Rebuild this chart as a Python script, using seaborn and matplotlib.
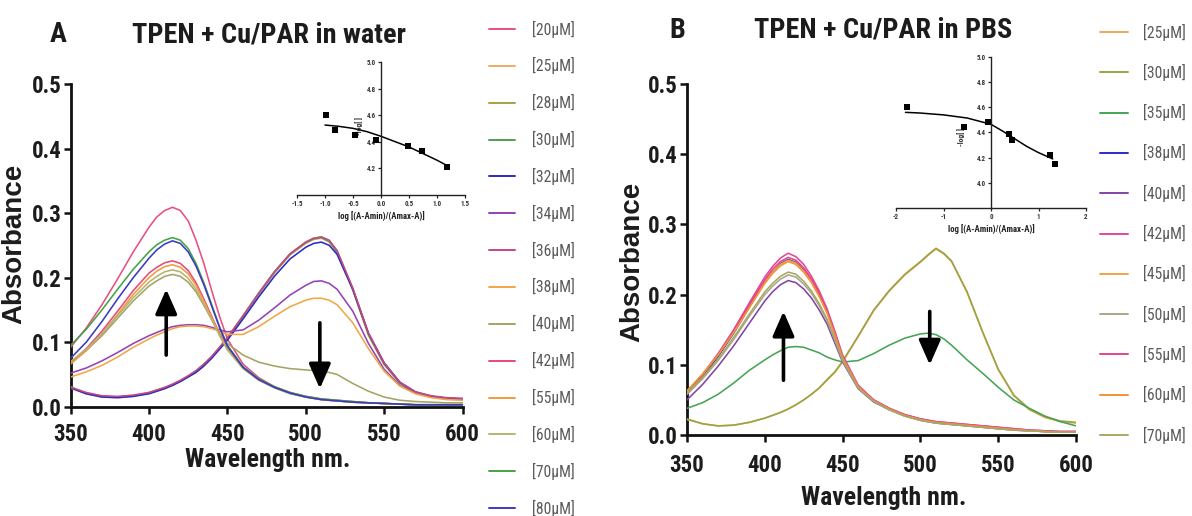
import matplotlib
matplotlib.use("Agg")
import matplotlib.pyplot as plt
import seaborn as sns
from matplotlib import font_manager as fm
from matplotlib.lines import Line2D

# ---------------- data ----------------
WL = [350, 360, 370, 380, 390, 400, 405, 410, 415, 420, 425, 430, 435, 440, 445, 450,
      460, 470, 480, 490, 500, 505, 510, 515, 520, 530, 540, 550, 560, 570, 580, 590, 600]

# Panel A (water)
labels_a = ["[20µM]", "[25µM]", "[28µM]", "[30µM]", "[32µM]", "[34µM]", "[36µM]",
            "[38µM]", "[40µM]", "[42µM]", "[55µM]", "[60µM]", "[70µM]", "[80µM]"]
colors_a = ["#e8507e", "#f2aa66", "#a8a044", "#4f9f55", "#2a2ac4", "#9343b3", "#c2488a",
            "#f2a645", "#a4a462", "#e64a7a", "#f29a3c", "#b4b474", "#44a344", "#3a3ac4"]
a20 = [.092, .122, .158, .198, .240, .278, .294, .304, .309, .304, .288, .258, .222, .180, .140, .105,
       .066, .045, .031, .022, .016, .014, .012, .011, .010, .008, .006, .005, .004, .003, .003, .003, .003]
a25 = [.029, .020, .015, .014, .016, .021, .024, .028, .033, .039, .046, .054, .064, .076, .090, .105,
       .139, .174, .207, .235, .253, .259, .261, .255, .238, .180, .110, .065, .036, .021, .015, .012, .011]
a28 = [.031, .021, .016, .015, .017, .022, .026, .029, .034, .040, .047, .055, .066, .077, .092, .106,
       .141, .176, .209, .237, .255, .261, .263, .257, .241, .183, .113, .067, .037, .022, .016, .013, .012]
a30 = [.030, .021, .016, .015, .017, .021, .025, .029, .034, .040, .047, .055, .065, .077, .091, .106,
       .140, .175, .208, .236, .254, .260, .262, .256, .240, .182, .112, .066, .037, .022, .016, .013, .012]
a32 = [.029, .020, .015, .014, .016, .020, .024, .028, .033, .039, .046, .053, .063, .075, .089, .103,
       .136, .170, .202, .229, .247, .253, .255, .250, .236, .182, .114, .068, .038, .023, .016, .013, .012]
a34 = [.052, .060, .071, .084, .098, .110, .115, .120, .124, .126, .127, .127, .126, .123, .119, .116,
       .119, .134, .153, .173, .188, .194, .195, .191, .182, .148, .098, .058, .033, .021, .015, .012, .011]
a36 = [.030, .022, .017, .016, .018, .022, .026, .030, .035, .041, .048, .056, .066, .078, .092, .107,
       .141, .176, .209, .237, .255, .261, .263, .258, .242, .184, .114, .068, .038, .023, .017, .014, .013]
a38 = [.046, .054, .064, .077, .092, .105, .111, .116, .121, .124, .125, .125, .124, .121, .117, .112,
       .112, .124, .140, .155, .165, .168, .168, .165, .158, .130, .090, .055, .032, .020, .014, .011, .010]
a40 = [.068, .087, .110, .137, .164, .187, .195, .202, .205, .202, .193, .178, .157, .135, .114, .098,
       .080, .069, .063, .059, .057, .056, .055, .053, .050, .036, .024, .015, .010, .008, .007, .006, .006]
a42 = [.068, .090, .117, .148, .180, .207, .216, .223, .226, .222, .211, .192, .167, .140, .113, .090,
       .060, .042, .030, .021, .015, .013, .011, .010, .009, .007, .006, .005, .004, .003, .003, .003, .003]
a55 = [.066, .087, .113, .143, .174, .200, .210, .217, .220, .216, .206, .188, .164, .138, .112, .089,
       .060, .042, .030, .021, .015, .013, .011, .010, .009, .007, .006, .005, .004, .003, .003, .003, .003]
a60 = [.070, .089, .113, .141, .169, .193, .202, .209, .212, .209, .199, .182, .159, .135, .110, .088,
       .059, .041, .029, .020, .015, .013, .011, .010, .009, .007, .006, .005, .004, .003, .003, .003, .003]
a70 = [.095, .120, .150, .182, .213, .240, .251, .258, .262, .258, .245, .222, .192, .158, .124, .095,
       .062, .043, .031, .022, .016, .014, .012, .011, .010, .008, .006, .005, .004, .003, .003, .003, .003]
a80 = [.075, .100, .132, .167, .200, .230, .243, .252, .257, .253, .240, .218, .189, .156, .123, .094,
       .061, .042, .030, .021, .015, .013, .011, .010, .009, .007, .006, .005, .004, .003, .003, .003, .003]
series_a = [a20, a25, a28, a30, a32, a34, a36, a38, a40, a42, a55, a60, a70, a80]

# Panel B (PBS)
labels_b = ["[25µM]", "[30µM]", "[35µM]", "[38µM]", "[40µM]", "[42µM]",
            "[45µM]", "[50µM]", "[55µM]", "[60µM]", "[70µM]"]
colors_b = ["#f2a655", "#98a444", "#47a456", "#2c2cc4", "#8444a6", "#e4469a",
            "#f2a445", "#a8a888", "#e44486", "#f29434", "#a8a866"]
b25 = [.022, .016, .013, .014, .018, .024, .028, .032, .037, .043, .050, .058, .067, .078, .089, .104,
       .140, .177, .205, .228, .246, .256, .265, .258, .247, .203, .146, .093, .056, .036, .025, .019, .017]
b30 = [.023, .016, .013, .014, .018, .024, .028, .032, .037, .043, .050, .058, .067, .079, .090, .105,
       .141, .178, .206, .229, .247, .257, .266, .259, .248, .204, .147, .094, .057, .037, .026, .020, .018]
b35 = [.038, .046, .058, .074, .092, .107, .114, .120, .125, .126, .125, .121, .117, .111, .107, .104,
       .106, .116, .128, .138, .144, .145, .143, .137, .128, .107, .088, .068, .050, .038, .027, .019, .013]
b38 = [.058, .083, .112, .145, .182, .218, .232, .244, .250, .246, .235, .219, .199, .175, .144, .110,
       .069, .049, .037, .028, .022, .020, .018, .017, .016, .014, .012, .010, .008, .006, .005, .004, .004]
b40 = [.050, .072, .098, .127, .159, .191, .204, .214, .220, .217, .208, .195, .178, .158, .131, .104,
       .066, .047, .036, .027, .021, .019, .017, .016, .015, .013, .011, .009, .007, .006, .005, .004, .004]
b42 = [.060, .086, .116, .150, .188, .225, .240, .252, .259, .254, .243, .226, .205, .180, .148, .114,
       .071, .050, .038, .029, .023, .021, .019, .018, .017, .015, .013, .011, .009, .007, .006, .005, .005]
b45 = [.062, .086, .114, .147, .183, .218, .232, .243, .249, .245, .234, .219, .199, .175, .144, .110,
       .069, .049, .037, .028, .022, .020, .018, .017, .016, .014, .012, .010, .008, .006, .005, .004, .004]
b50 = [.058, .080, .106, .136, .169, .200, .212, .222, .228, .225, .215, .202, .184, .163, .135, .106,
       .067, .048, .036, .027, .021, .019, .017, .016, .015, .013, .011, .009, .007, .006, .005, .004, .004]
b55 = [.061, .086, .115, .148, .185, .221, .236, .247, .253, .249, .238, .222, .202, .177, .146, .111,
       .070, .050, .038, .029, .023, .021, .019, .018, .017, .015, .013, .011, .009, .007, .006, .005, .005]
b60 = [.063, .087, .114, .146, .181, .216, .230, .241, .247, .243, .232, .217, .197, .174, .143, .110,
       .069, .049, .037, .028, .022, .020, .018, .017, .016, .014, .012, .010, .008, .006, .005, .004, .004]
b70 = [.060, .082, .108, .139, .172, .204, .216, .226, .232, .229, .219, .205, .187, .165, .137, .107,
       .067, .048, .036, .027, .021, .019, .017, .016, .015, .013, .011, .009, .007, .006, .005, .004, .004]
series_b = [b25, b30, b35, b38, b40, b42, b45, b50, b55, b60, b70]

# Insets: -log[ ] vs log[(A-Amin)/(Amax-A)]
ins_a_x = [-0.98, -0.82, -0.46, -0.09, 0.48, 0.73, 1.18]
ins_a_y = [4.60, 4.49, 4.45, 4.41, 4.37, 4.33, 4.21]
fit_a_x = [-1.0, -0.75, -0.5, -0.25, 0.0, 0.25, 0.5, 0.75, 1.0, 1.2]
fit_a_y = [4.525, 4.515, 4.50, 4.475, 4.44, 4.40, 4.36, 4.31, 4.26, 4.215]
ins_b_x = [-1.77, -0.56, -0.06, 0.37, 0.45, 1.25, 1.34]
ins_b_y = [4.60, 4.44, 4.48, 4.39, 4.34, 4.22, 4.15]
fit_b_x = [-1.8, -1.5, -1.0, -0.5, 0.0, 0.25, 0.5, 0.75, 1.0, 1.3]
fit_b_y = [4.56, 4.555, 4.54, 4.515, 4.465, 4.41, 4.35, 4.29, 4.24, 4.19]

xticks_main = [350, 400, 450, 500, 550, 600]
yticks_main = [0.0, 0.1, 0.2, 0.3, 0.4, 0.5]

# ---------------- style ----------------
sns.set_theme(style="ticks")


def has_font(name):
    try:
        fm.findfont(fm.FontProperties(family=name), fallback_to_default=False)
        return True
    except Exception:
        return False


# condensed family that mimics the narrow lettering of the original
NARROW, SCALE = "Liberation Sans", 0.84
for cand, sc in [("Liberation Sans Narrow", 1.0), ("Roboto Condensed", 0.97),
                 ("DejaVu Sans Condensed", 0.86)]:
    if has_font(cand):
        NARROW, SCALE = cand, sc
        break
REG = "Liberation Sans" if has_font("Liberation Sans") else "DejaVu Sans"
plt.rcParams["font.family"] = [NARROW, "DejaVu Sans"]
TXT = "#1c1c1c"


def fs(v):
    return v * SCALE


W, H = 1192, 516
fig = plt.figure(figsize=(W / 100, H / 100), dpi=100)
fig.patch.set_facecolor("white")


def fx(px):
    return px / W


def fy(py):
    return 1 - py / H


def main_axes(left, right, top, bottom):
    return fig.add_axes([fx(left), fy(bottom), fx(right) - fx(left), fy(top) - fy(bottom)])


def style_main(ax):
    ax.set_xlim(350, 600)
    ax.set_ylim(0, 0.5)
    ax.set_xticks(xticks_main)
    ax.set_yticks(yticks_main)
    ax.set_yticklabels([f"{v:.1f}" for v in yticks_main])
    for s in ["top", "right"]:
        ax.spines[s].set_visible(False)
    for s in ["left", "bottom"]:
        ax.spines[s].set_linewidth(2.0)
        ax.spines[s].set_color("#111111")
        ax.spines[s].set_zorder(1)
    ax.tick_params(axis="both", direction="out", length=5, width=1.8, color="#111111",
                   labelsize=fs(17), labelcolor=TXT)
    ax.tick_params(axis="y", pad=1.5)
    ax.tick_params(axis="x", pad=7)
    for lab in ax.get_xticklabels() + ax.get_yticklabels():
        lab.set_fontweight("bold")
    ax.set_facecolor("none")
    ax.grid(False)


def draw_series(ax, series, colors):
    for vals, c in zip(series, colors):
        sns.lineplot(x=WL, y=vals, ax=ax, color=c, lw=1.15, legend=False, estimator=None)


def arrow(ax, x, y0, y1):
    ax.annotate("", xy=(x, y1), xytext=(x, y0),
                arrowprops=dict(arrowstyle="-|>,head_length=0.75,head_width=0.33", color="black",
                                lw=2.6, mutation_scale=20, shrinkA=0, shrinkB=0), zorder=5)


def style_inset(ax, xlim, ylim, xticks, yticks, xfmt, ylabel_pos):
    ax.set_xlim(*xlim)
    ax.set_ylim(*ylim)
    ax.set_facecolor("none")
    for s in ["top", "right"]:
        ax.spines[s].set_visible(False)
    ax.spines["left"].set_position(("data", 0))
    ax.spines["bottom"].set_position(("data", ylim[0]))
    for s in ["left", "bottom"]:
        ax.spines[s].set_linewidth(1.0)
        ax.spines[s].set_color("#222222")
    ax.set_xticks(xticks)
    ax.set_xticklabels([xfmt(v) for v in xticks])
    ax.set_yticks(yticks)
    ax.set_yticklabels([f"{v:.1f}" for v in yticks])
    ax.tick_params(axis="both", direction="out", length=2.5, width=0.9, color="#222222",
                   labelsize=5, labelcolor="#333333", pad=1)
    for lab in ax.get_xticklabels() + ax.get_yticklabels():
        lab.set_fontweight("bold")
    ax.set_xlabel("log [(A-Amin)/(Amax-A)]", fontsize=6.3, fontweight="bold", color="#222222", labelpad=3)
    ax.text(ylabel_pos[0], ylabel_pos[1], "-log[ ]", transform=ax.transAxes, rotation=90,
            fontsize=5.5, fontweight="bold", color="#333333", ha="center", va="center")
    ax.grid(False)


# ---------------- Panel A ----------------
axA = main_axes(70.6, 462.5, 84, 406.7)
draw_series(axA, series_a, colors_a)
style_main(axA)
axA.set_xlabel("Wavelength nm.", fontsize=fs(19), fontweight="bold", color=TXT)
axA.xaxis.set_label_coords(0.502, -0.165)
axA.xaxis.label.set_va("center")
axA.set_ylabel("Absorbance", fontsize=20, fontweight="bold", color=TXT, family=[REG, "DejaVu Sans"])
axA.yaxis.set_label_coords((14 - 70.6) / 391.9, 0.505)
axA.yaxis.label.set_va("center")
arrow(axA, 411, 0.080, 0.182)
arrow(axA, 509, 0.130, 0.028)

insA = fig.add_axes([fx(297), fy(194.7), fx(465) - fx(297), fy(62) - fy(194.7)])
sns.lineplot(x=fit_a_x, y=fit_a_y, ax=insA, color="black", lw=1.1, legend=False, estimator=None)
sns.scatterplot(x=ins_a_x, y=ins_a_y, ax=insA, marker="s", s=22, color="black", edgecolor="black",
                linewidth=0, legend=False, zorder=4)
style_inset(insA, (-1.5, 1.5), (4.0, 5.0), [-1.5, -1.0, -0.5, 0.0, 0.5, 1.0, 1.5],
            [4.2, 4.4, 4.6, 4.8, 5.0], lambda v: f"{v:.1f}", (0.37, 0.52))

fig.text(fx(58), fy(35), "A", fontsize=fs(21), fontweight="bold", color=TXT, ha="center", va="center")
fig.text(fx(269), fy(35), "TPEN + Cu/PAR in water", fontsize=fs(21), fontweight="bold", color=TXT,
         ha="center", va="center")

for i, (lab, c) in enumerate(zip(labels_a, colors_a)):
    y = fy(29 + i * 36.85)
    fig.add_artist(Line2D([fx(489), fx(515)], [y, y], color=c, lw=1.4, transform=fig.transFigure))
    fig.text(fx(532), y, lab, fontsize=fs(11.6), color="#5a5a5a", ha="left", va="center")

# ---------------- Panel B ----------------
axB = main_axes(687, 1076, 84, 435)
draw_series(axB, series_b, colors_b)
style_main(axB)
axB.tick_params(axis="x", pad=9)
axB.set_xlabel("Wavelength nm.", fontsize=fs(19), fontweight="bold", color=TXT)
axB.xaxis.set_label_coords(0.505, -0.179)
axB.xaxis.label.set_va("center")
axB.set_ylabel("Absorbance", fontsize=20, fontweight="bold", color=TXT, family=[REG, "DejaVu Sans"])
axB.yaxis.set_label_coords((632 - 687) / 389.0, 0.493)
axB.yaxis.label.set_va("center")
arrow(axB, 412, 0.078, 0.176)
arrow(axB, 506, 0.176, 0.100)

insB = fig.add_axes([fx(896), fy(208), fx(1086) - fx(896), fy(57) - fy(208)])
sns.lineplot(x=fit_b_x, y=fit_b_y, ax=insB, color="black", lw=1.1, legend=False, estimator=None)
sns.scatterplot(x=ins_b_x, y=ins_b_y, ax=insB, marker="s", s=22, color="black", edgecolor="black",
                linewidth=0, legend=False, zorder=4)
style_inset(insB, (-2, 2), (3.8, 5.0), [-2, -1, 0, 1, 2], [4.0, 4.2, 4.4, 4.6, 4.8, 5.0],
            lambda v: f"{v:d}", (0.34, 0.47))

fig.text(fx(677), fy(30), "B", fontsize=fs(21), fontweight="bold", color=TXT, ha="center", va="center")
fig.text(fx(883), fy(30), "TPEN + Cu/PAR in PBS", fontsize=fs(21), fontweight="bold", color=TXT,
         ha="center", va="center")

for i, (lab, c) in enumerate(zip(labels_b, colors_b)):
    y = fy(32 + i * 40.3)
    fig.add_artist(Line2D([fx(1100), fx(1128)], [y, y], color=c, lw=1.4, transform=fig.transFigure))
    fig.text(fx(1143), y, lab, fontsize=fs(11.6), color="#5a5a5a", ha="left", va="center")

fig.savefig("out.png", dpi=100, facecolor="white")
